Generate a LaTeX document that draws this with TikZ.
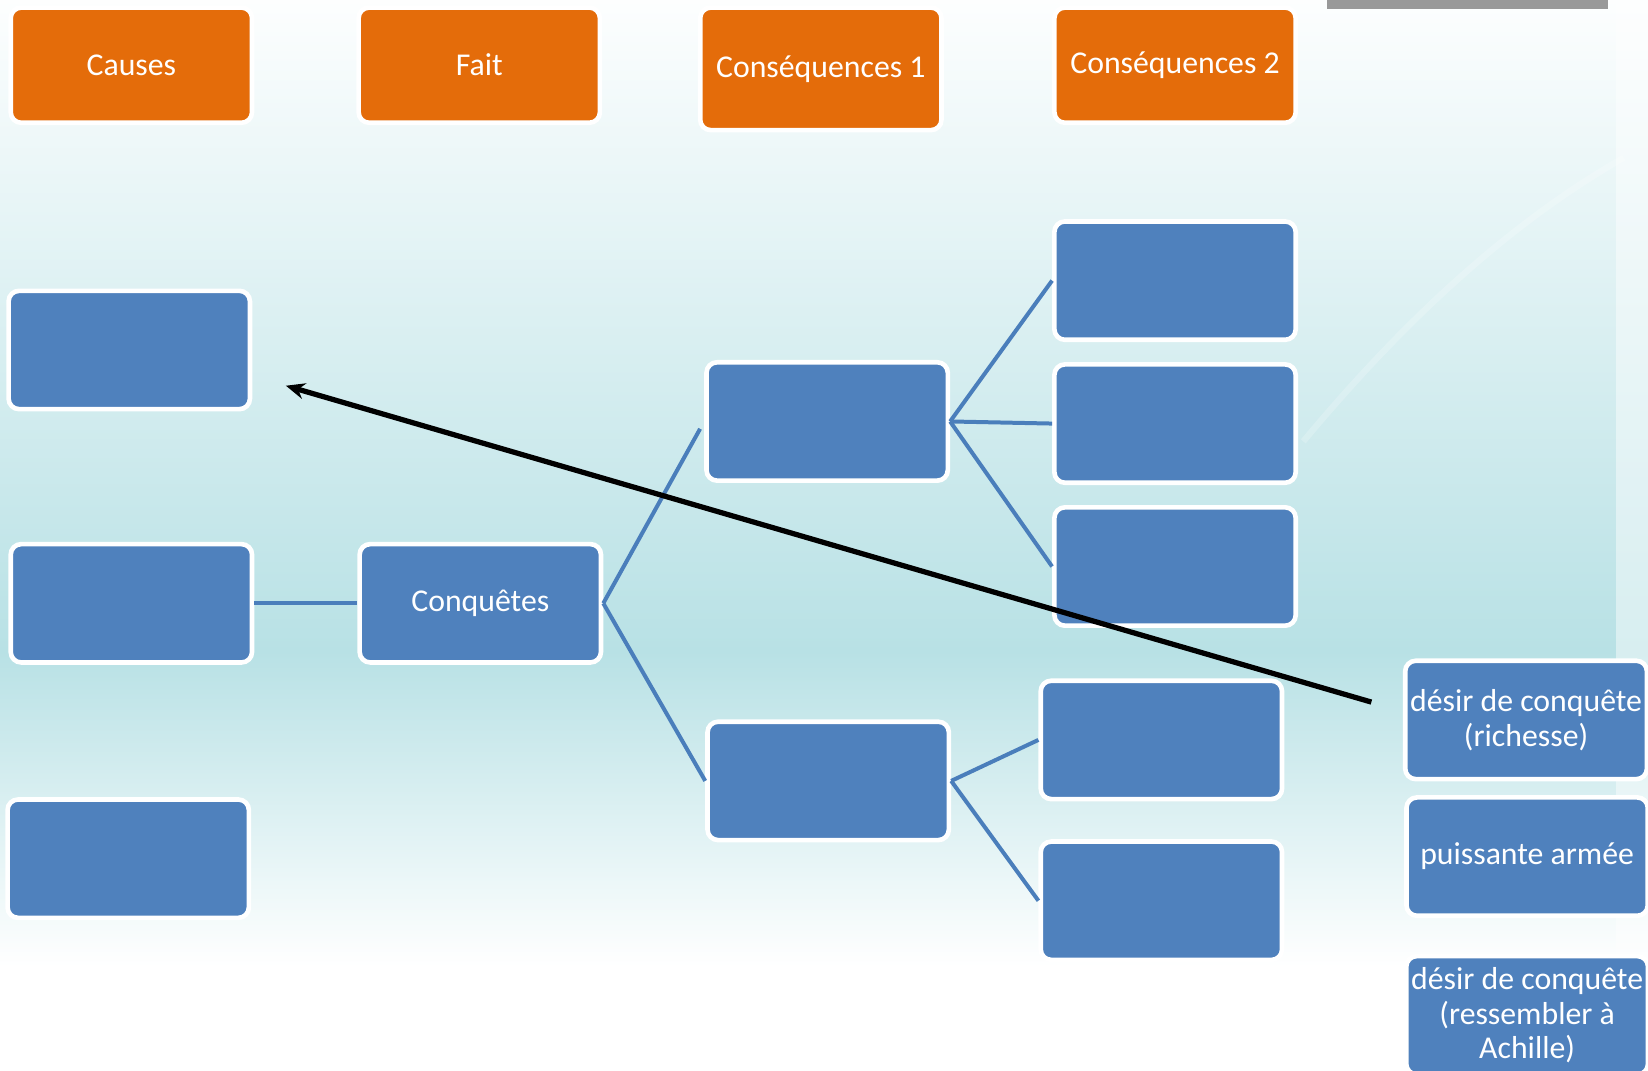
\documentclass[tikz,border=0pt]{standalone}
\usepackage{fontspec}
\setmainfont{Carlito}
\usepackage{xcolor}
\usepackage{tikz}
\usetikzlibrary{arrows.meta, calc}

\definecolor{headorange}{HTML}{E46C0A}
\definecolor{boxblue}{HTML}{4F81BD}
\definecolor{linkblue}{HTML}{4A7EBB}
\definecolor{slidecyan}{HTML}{B8E1E5}

\begin{document}
\begin{tikzpicture}[
    x=0.25mm, y=-0.25mm,
    box/.style={rectangle, rounded corners=2.5mm, draw=white, line width=1.1mm, minimum width=57.4mm, minimum height=28.15mm, align=center, text=white, font=\fontsize{21.5}{23.5}\selectfont},
    head/.style={box, fill=headorange, minimum height=27.4mm},
    bluebox/.style={box, fill=boxblue},
    link/.style={draw=linkblue, line width=0.95mm},
    arrow/.style={-{Stealth[length=4.5mm, width=3.8mm]}, line width=1.25mm}
]

% Slide background
\useasboundingbox (0,0) rectangle (1568,1019);
\clip (0,0) rectangle (1568,1019);
\shade[top color=white!97!slidecyan, bottom color=slidecyan] (0,0) rectangle (1568,620);
\shade[top color=slidecyan, bottom color=white] (0,620) rectangle (1568,920);
\fill[white] (0,920) rectangle (1568,1019);
\fill[white, opacity=0.45] (1538,0) rectangle (1568,1019);
\draw[white, opacity=0.2, line width=1.5mm] (1240,420) .. controls (1340,300) and (1440,210) .. (1545,150);
\fill[gray!80] (1263,0) rectangle (1530,9);

% Column headers
\node[head] (causes) at (125,62) {Causes};
\node[head] (fait) at (456,62) {Fait};
\node[head, minimum height=29.15mm] (cons1) at (781,65.5) {Conséquences 1};
\node[head] (cons2) at (1118,62) {Conséquences 2};

% Causes column
\node[bluebox] (cause1) at (123,333) {};
\node[bluebox] (cause2) at (125,574) {};
\node[bluebox] (cause3) at (122,817) {};

% Fait column
\node[bluebox] (conq) at (457,574) {Conquêtes};

% Consequences 1 column
\node[bluebox] (csq1a) at (787,401) {};
\node[bluebox] (csq1b) at (788,743) {};

% Consequences 2 column
\node[bluebox] (csq2a) at (1118,267) {};
\node[bluebox] (csq2b) at (1118,403) {};
\node[bluebox] (csq2c) at (1118,539) {};
\node[bluebox] (csq2d) at (1105,704) {};
\node[bluebox] (csq2e) at (1105,857) {};

% Answers to sort
\node[bluebox] (ans1) at (1452,685) {désir de conquête\\(richesse)};
\node[bluebox] (ans2) at (1453,815) {puissante armée};
\node[bluebox] (ans3) at (1453,966) {désir de conquête\\(ressembler à\\Achille)};

% Links
\draw[link] (cause2) -- (conq);
\draw[link, shorten >=2mm] (conq.east) -- (csq1a.west);
\draw[link] (conq.east) -- (csq1b.west);
\draw[link] (csq1a.east) -- (csq2a.west);
\draw[link] (csq1a.east) -- (csq2b.west);
\draw[link] (csq1a.east) -- (csq2c.west);
\draw[link] (csq1b.east) -- (csq2d.west);
\draw[link] (csq1b.east) -- (csq2e.west);

% Arrow moving an answer
\coordinate (tail) at ($(ans1.west)+(-30,-17)$);
\coordinate (tip) at ($(cause1.east)+(32,34)$);
\draw[arrow] (tail) -- (tip);

\end{tikzpicture}
\end{document}
